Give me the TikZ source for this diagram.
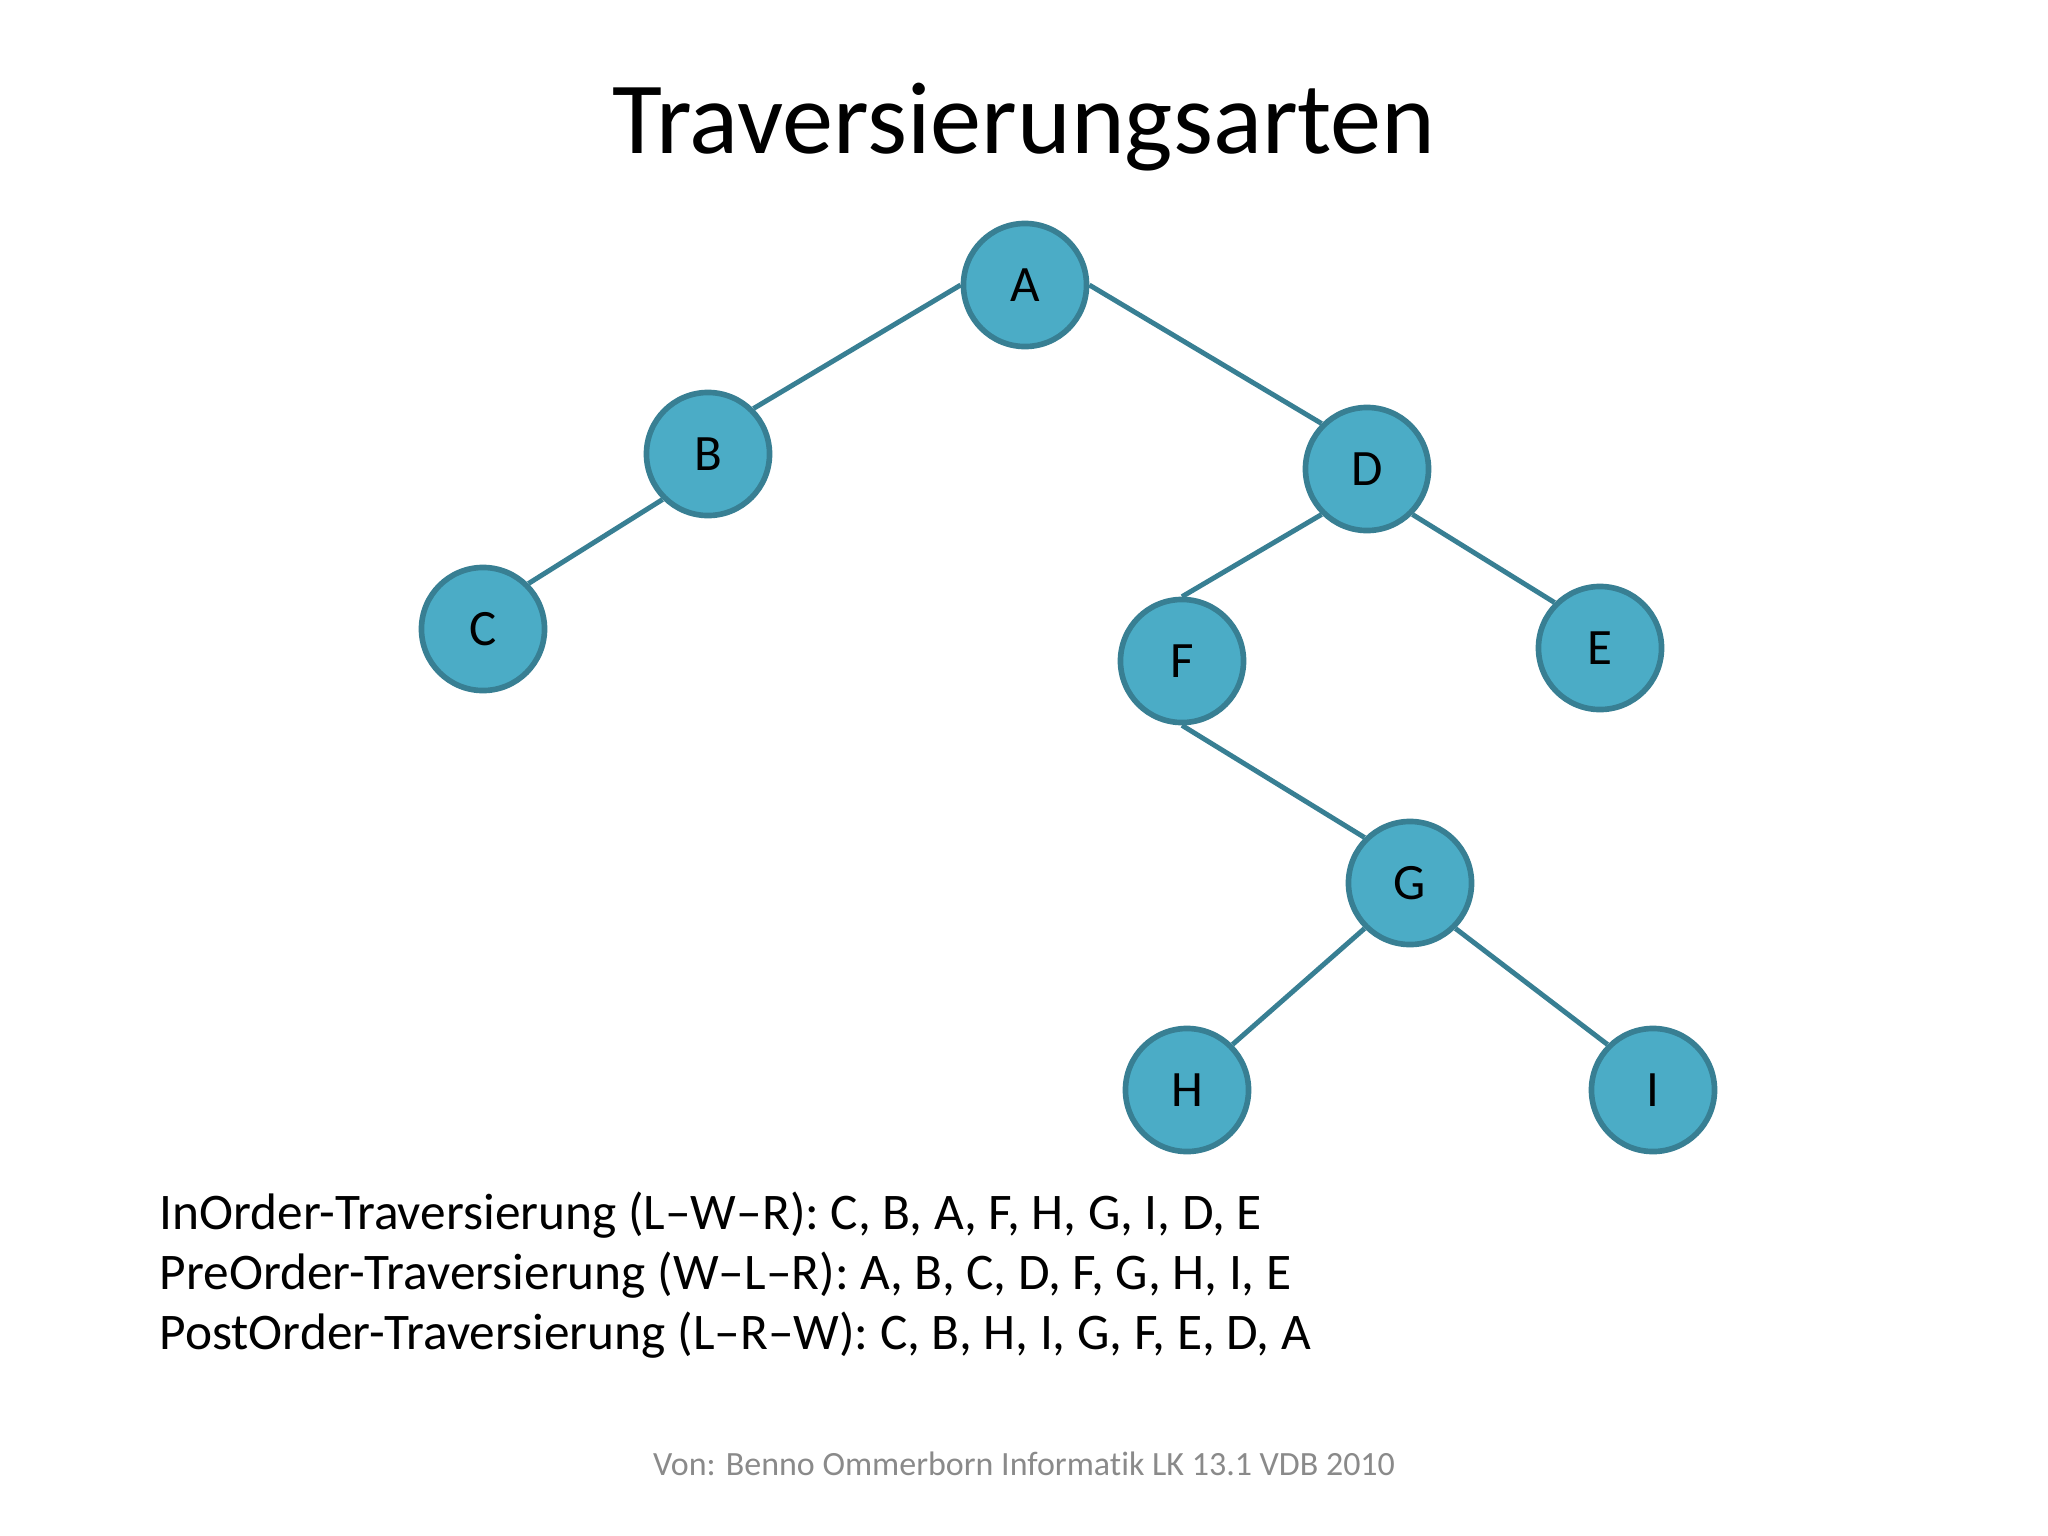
\documentclass[tikz,border=0pt]{standalone}
\usepackage{fontspec}
\setmainfont[Ligatures={TeX,NoCommon}]{Carlito}
\definecolor{knotfill}{HTML}{4BACC6}
\definecolor{knotrand}{HTML}{387F93}
\definecolor{fussgrau}{HTML}{8A8A8A}

\begin{document}
\begin{tikzpicture}[x=0.01cm, y=-0.01cm,
    knoten/.style={circle, draw=knotrand, line width=1.6pt, fill=knotfill,
      minimum size=1.23cm, inner sep=0pt, font=\fontsize{14.5}{17}\selectfont},
    kante/.style={draw=knotrand, line width=1.4pt},
    zeile/.style={anchor=base west, inner sep=0pt, font=\fontsize{14.6}{17}\selectfont}]
  \useasboundingbox (0,0) rectangle (2048,1536);
  \node[anchor=base, inner sep=0pt, font=\fontsize{29.1}{34}\selectfont] (titel) at (1024,153) {Traversierungsarten};

  % Baum
  \node[knoten] (A) at (1025,285) {A};
  \node[knoten] (B) at (708,454) {B};
  \node[knoten] (C) at (483,629) {C};
  \node[knoten] (D) at (1367,469) {D};
  \node[knoten] (E) at (1600,648) {E};
  \node[knoten] (F) at (1182,661) {F};
  \node[knoten] (G) at (1410,883) {G};
  \node[knoten] (H) at (1187,1090) {H};
  \node[knoten] (I) at (1653,1090) {I};
  \draw[kante] (A.west) -- (B.north east);
  \draw[kante] (B.south west) -- (C.north east);
  \draw[kante] (A.east) -- (D.north west);
  \draw[kante] (D.south west) -- (F.north);
  \draw[kante] (D.south east) -- (E.north west);
  \draw[kante] (F.south) -- (G.north west);
  \draw[kante] (G.south west) -- (H.north east);
  \draw[kante] (G.south east) -- (I.north west);

  \node[zeile] (inorder) at (159,1229) {InOrder-Traversierung (L–W–R): C, B, A, F, H, G, I, D, E};
  \node[zeile] (preorder) at (159,1289) {PreOrder-Traversierung (W–L–R): A, B, C, D, F, G, H, I, E};
  \node[zeile] (postorder) at (159,1349) {PostOrder-Traversierung (L–R–W): C, B, H, I, G, F, E, D, A};

  \node[anchor=base, inner sep=0pt, text=fussgrau, font=\fontsize{9.66}{11}\selectfont] (fuss) at (1024,1475) {Von: Benno Ommerborn Informatik LK 13.1 VDB 2010};
\end{tikzpicture}
\end{document}
